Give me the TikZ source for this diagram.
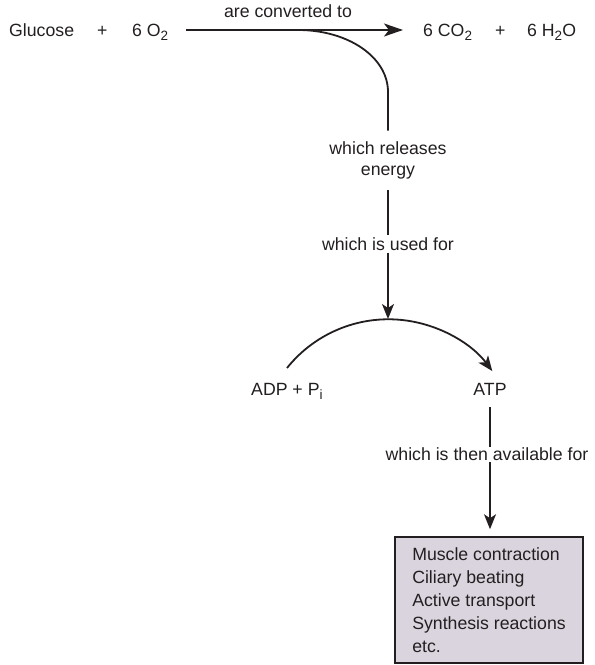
\documentclass[tikz,border=0pt]{standalone}
\usepackage{fontspec}
\setmainfont{Liberation Sans}
\usetikzlibrary{arrows.meta}
\definecolor{ink}{RGB}{35,31,32}
\definecolor{boxfill}{RGB}{218,212,223}
\newcommand\mysubs[1]{\raisebox{-4pt}{\fontsize{13.5}{12}\selectfont #1}}
\begin{document}
\begin{tikzpicture}[x=1pt,y=1pt,
  txt/.style={inner sep=0pt, font=\fontsize{17.7}{21}\selectfont, text=ink},
  conn/.style={line width=1.8pt, draw=ink},
  arr/.style={conn, -{Stealth[length=15pt,width=12pt,inset=4pt]}},
  bigarr/.style={conn, -{Stealth[length=19pt,width=13pt,inset=5pt]}},
  infobox/.style={draw=ink, fill=boxfill, line width=1.5pt, minimum width=188pt,
    minimum height=126pt, inner xsep=4pt, inner ysep=4pt,
    align=left, font=\fontsize{17.7}{23}\selectfont, text=ink}]
\useasboundingbox (0,0) rectangle (595,665);
% top row
\node[txt, anchor=base west] (glu) at (9,628.5) {Glucose};
\node[txt, anchor=base west] (plus1) at (97,628.5) {+};
\node[txt, anchor=base west] (o2) at (132,628.5) {6 O\mysubs{2}};
\node[txt, anchor=base west] (co2) at (423,628.5) {6 CO\mysubs{2}};
\node[txt, anchor=base west] (plus2) at (495,628.5) {+};
\node[txt, anchor=base west] (h2o) at (527,628.5) {6 H\mysubs{2}O};
\node[txt, anchor=base] (conv) at (288,647) {are converted to};
\coordinate (branch) at (298,635);
% middle
\node[txt, align=center, inner ysep=11pt] (rel) at (388,504.5) {which releases\\energy};
\node[txt, inner ysep=2pt] (used) at (388,421) {which is used for};
\coordinate (arctop) at (388,346);
\coordinate (arcL) at (287,297);
\node[txt, anchor=base west] (adp) at (251,269) {ADP + P\mysubs{i}};
\node[txt, anchor=base] (atp) at (490,269) {ATP};
\node[txt, anchor=base, inner ysep=1pt] (avail) at (487,204) {which is then available for};
\node[infobox] (box) at (489,65) {Muscle contraction\\Ciliary beating\\Active transport\\Synthesis reactions\\etc.};
% connectors
\draw[bigarr, shorten <=18pt, shorten >=20pt] (o2.east |- branch) -- (co2.west |- branch);
\draw[conn] (branch) .. controls (348,635) and (388,608) .. (388,573) -- (rel.north);
\draw[conn] (rel.south) -- (used.north);
\draw[arr] (used.south) -- (arctop);
\draw[arr] (arcL) arc[start angle=141.3, end angle=37, radius=130];
\draw[conn, shorten <=11pt] (atp.south) -- (atp.south |- avail.north);
\draw[arr, shorten >=7pt] (atp.south |- avail.south) -- (atp.south |- box.north);
\end{tikzpicture}
\end{document}
